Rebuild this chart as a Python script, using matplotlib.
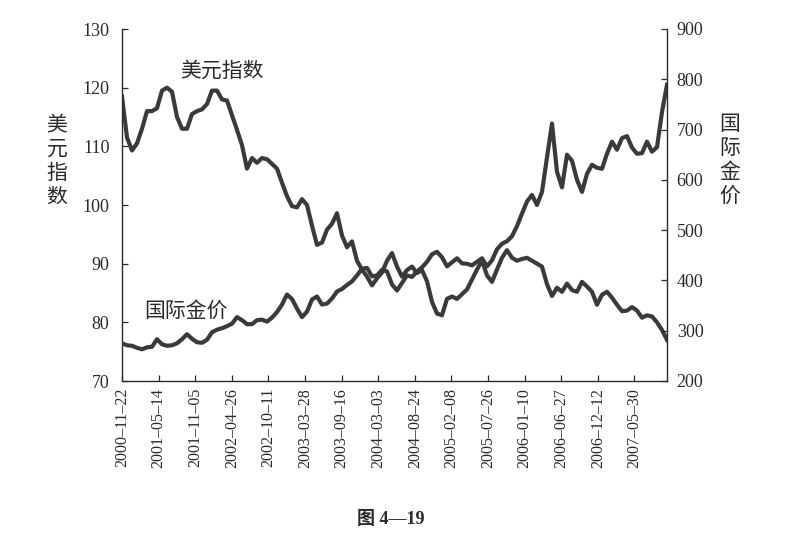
import numpy as np
import matplotlib
matplotlib.use("Agg")
import matplotlib.pyplot as plt

plt.rcParams['font.family'] = ['Liberation Serif', 'Noto Sans CJK SC', 'DejaVu Sans']

dollar_index = [118.5, 111.5, 109.3, 110.5, 113, 116, 116, 116.5, 119.5, 120,
                119.3, 115, 113, 113, 115.5, 116, 116.3, 117.2, 119.5, 119.5,
                118, 117.8, 115.3, 112.8, 110.2, 106.2, 108, 107.2, 108, 107.8,
                107, 106.2, 103.8, 101.5, 99.8, 99.6, 101, 100, 96.5, 93.2,
                93.6, 95.8, 96.8, 98.6, 94.8, 92.8, 93.8, 90.5, 89, 87.8,
                86.3, 87.5, 88.5, 90.5, 91.8, 89.5, 87.8, 88.9, 89.5, 88.4,
                88.9, 87, 83.5, 81.5, 81.2, 84, 84.4, 84, 84.8, 85.6,
                87.3, 89, 90.5, 88, 86.9, 89, 91, 92.3, 91, 90.5,
                90.8, 91, 90.5, 90, 89.5, 86.5, 84.5, 85.9, 85.2, 86.6,
                85.5, 85.2, 86.9, 86.1, 85.2, 83, 84.7, 85.2, 84.2, 83,
                81.9, 82, 82.6, 82, 80.8, 81.2, 81, 80, 78.7, 77]

# 国际金价, same sampling
gold_price = [275, 271, 270, 266, 263, 267, 268, 283, 273, 270,
              271, 275, 283, 293, 284, 277, 276, 282, 297, 302,
              305, 309, 314, 327, 321, 313, 313, 321, 322, 318,
              326, 337, 352, 372, 363, 344, 327, 338, 362, 368,
              352, 354, 364, 378, 383, 391, 398, 410, 423, 425,
              408, 410, 421, 418, 392, 380, 395, 410, 407, 418,
              426, 437, 452, 457, 446, 428, 436, 444, 434, 433,
              430, 437, 444, 428, 440, 462, 473, 478, 488, 508,
              533, 557, 570, 550, 576, 645, 712, 616, 585, 650,
              638, 600, 576, 612, 630, 624, 622, 652, 676, 660,
              683, 687, 664, 652, 653, 676, 656, 665, 735, 789]

n_days = 1787          # trading days shown
tick_step = 120        # one date label every 120 trading days
date_labels = ['2000–11–22', '2001–05–14', '2001–11–05', '2002–04–26',
               '2002–10–11', '2003–03–28', '2003–09–16', '2004–03–03',
               '2004–08–24', '2005–02–08', '2005–07–26', '2006–01–10',
               '2006–06–27', '2006–12–12', '2007–05–30']

line_col = '#3a3a3a'
ink = '#2a2a2a'

fig = plt.figure(figsize=(7.98, 5.56), dpi=100)
ax = fig.add_axes([122/798, 1-381/556, (667-122)/798, (381-29)/556])
ax2 = ax.twinx()

days = np.linspace(0, n_days, len(dollar_index))
ax.plot(days, dollar_index, color=line_col, lw=3.0, solid_joinstyle='round')
ax2.plot(days, gold_price, color=line_col, lw=3.0, solid_joinstyle='round')

ax.set_xlim(0, n_days)
ax.set_ylim(70, 130)
ax.set_yticks(range(70, 131, 10))
ax2.set_ylim(200, 900)
ax2.set_yticks(range(200, 901, 100))

ax.set_xticks(np.arange(len(date_labels)) * tick_step)
ax.set_xticklabels(date_labels, rotation=90, fontsize=11.5, color=ink)

for a in (ax, ax2):
    a.spines['top'].set_visible(False)
    for s in a.spines.values():
        s.set_color(ink)
        s.set_linewidth(1.0)
ax.spines['right'].set_visible(False)
ax2.spines['left'].set_visible(False)
ax2.spines['bottom'].set_visible(False)

ax.tick_params(axis='x', direction='in', length=4, width=0.9, pad=5, colors=ink)
ax.tick_params(axis='y', direction='in', length=4, width=0.9, pad=9,
               labelsize=13, colors=ink)
ax2.tick_params(axis='y', direction='in', length=4, width=0.9, pad=7,
                labelsize=13, colors=ink)

cjk = ['Noto Sans CJK SC']
fig.text(57/798, 1-161/556, '美\n元\n指\n数', fontsize=15, family=cjk,
         fontweight='light', ha='center', va='center', linespacing=1.1, color=ink)
fig.text(730/798, 1-160/556, '国\n际\n金\n价', fontsize=15, family=cjk,
         fontweight='light', ha='center', va='center', linespacing=1.1, color=ink)
fig.text(222/798, 1-71/556, '美元指数', fontsize=15, family=cjk,
         fontweight='light', ha='center', va='center', color=ink)
fig.text(186/798, 1-311/556, '国际金价', fontsize=15, family=cjk,
         fontweight='light', ha='center', va='center', color=ink)
fig.text(391/798, 1-519/556, '图 4—19', fontsize=13, fontweight='bold',
         ha='center', va='center', color=ink)

fig.savefig('out.png', dpi=100)
